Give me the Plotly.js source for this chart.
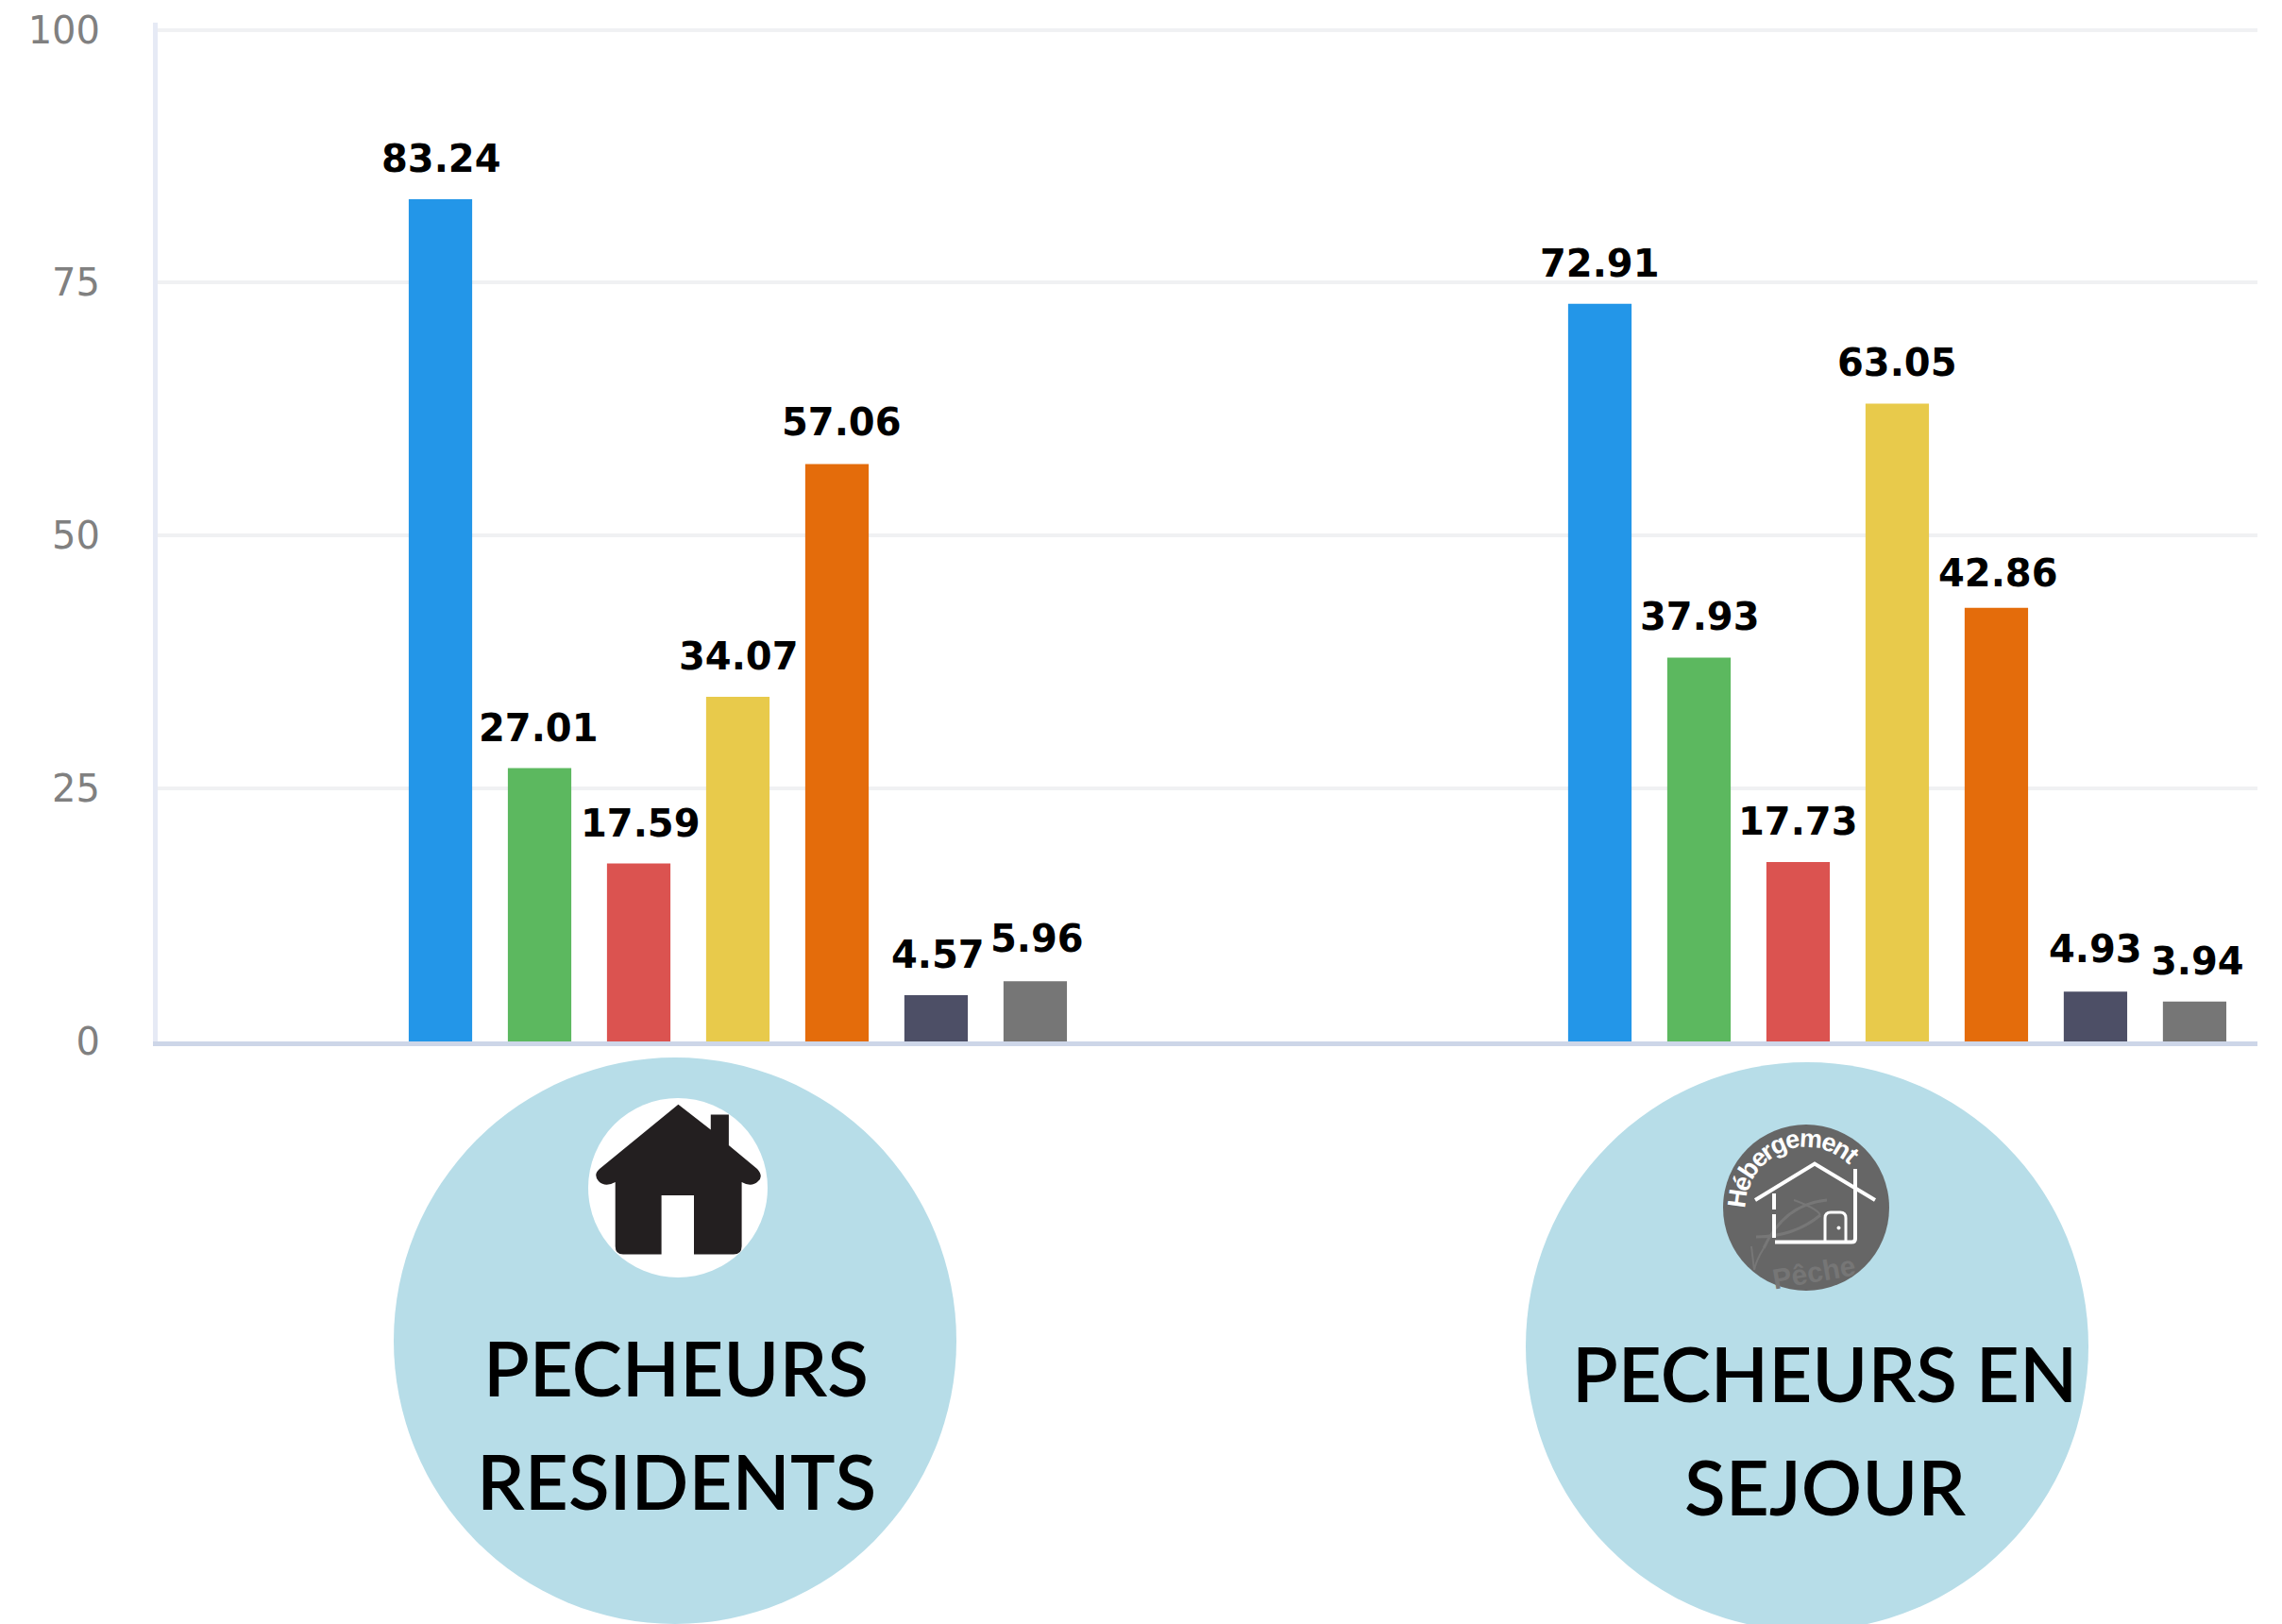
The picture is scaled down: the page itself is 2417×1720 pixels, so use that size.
<!DOCTYPE html>
<html><head><meta charset="utf-8">
<script src="https://cdn.plot.ly/plotly-3.0.1.min.js"></script>
<style>html,body{margin:0;padding:0;background:#fff;overflow:hidden}#c{width:2417px;height:1720px}</style>
</head><body><div id="c"></div>
<script>
const categories = ["PECHEURS RESIDENTS", "PECHEURS EN SEJOUR"];
const serie1 = [83.24, 72.91];
const serie2 = [27.01, 37.93];
const serie3 = [17.59, 17.73];
const serie4 = [34.07, 63.05];
const serie5 = [57.06, 42.86];
const serie6 = [4.57, 4.93];
const serie7 = [5.96, 3.94];
const seriesValues = [serie1, serie2, serie3, serie4, serie5, serie6, serie7];
const seriesColors = ["#2396e8", "#5cb85f", "#db5350", "#e8ca4b", "#e46c0b", "#4d4f66", "#767676"];
const yTicks = [0, 25, 50, 75, 100];

const W = 2417, H = 1720, L = 167, R = 26, T = 24, B = 617;
const X = p => (p - L) / (W - L - R);
const Y = p => 1 - (p - T) / (H - T - B);
const pxPath = s => s.replace(/(-?[\d.]+),(-?[\d.]+)/g, (m, a, b) => X(+a) + ',' + Y(+b));

const pathShape = (d, o) => Object.assign({type: 'path', xref: 'paper', yref: 'paper', path: pxPath(d), line: {width: 0}}, o);
const circle = (cx, cy, rx, ry, fill) => ({type: 'circle', xref: 'paper', yref: 'paper',
  x0: X(cx - rx), x1: X(cx + rx), y0: Y(cy + ry), y1: Y(cy - ry), fillcolor: fill, line: {width: 0}});
const stroke = (d, color, width) => pathShape(d, {line: {color: color, width: width}, fillcolor: 'rgba(0,0,0,0)'});

const shapes = [
  circle(715, 1420, 298, 300, '#b7dde8'),
  circle(1914, 1426, 298, 301, '#b7dde8'),
  circle(718, 1258, 95, 95, '#ffffff'),
  pathShape('M718.4,1169.8 L752.8,1196.5 L752.8,1180.5 L771.9,1180.5 L771.9,1213 L802,1238 Q809,1246 803,1251 Q796,1258 785.6,1252 L785.6,1320 Q785.6,1328.6 777,1328.6 L735,1328.6 L735,1266 L700.6,1266 L700.6,1328.6 L660,1328.6 Q651.7,1328.6 651.7,1320 L651.7,1252 Q641,1258 634,1251 Q628,1244 635,1238 Z', {fillcolor: '#231f20'}),
  circle(1913, 1279, 88, 88, '#666666'),
  // faint fish and reeds of the lodging badge
  stroke('M1935,1271 Q1890,1275 1868,1322', '#777777', 3),
  stroke('M1928,1287 Q1900,1310 1860,1310', '#777777', 3),
  stroke('M1900,1271 Q1925,1280 1928,1287', '#777777', 2),
  stroke('M1868,1322 Q1860,1335 1858,1345', '#777777', 2),
  stroke('M1855,1320 L1858,1345', '#777777', 2),
  // lodging house outline
  stroke('M1859,1271 L1922,1232.5 L1986,1271', '#ffffff', 4),
  stroke('M1965,1238 L1965,1312 Q1965,1315.5 1961,1315.5 L1880,1315.5', '#ffffff', 4),
  stroke('M1879,1264 L1879,1281 M1879,1286 L1879,1311', '#ffffff', 4),
  stroke('M1933,1315 L1933,1290 Q1933,1284 1939,1284 L1949,1284 Q1955,1284 1955,1290 L1955,1315', '#ffffff', 3),
  circle(1947.5, 1300.5, 2, 2, '#ffffff')
];

const annotations = [];
const labelDx = [[1, -1, 2, 1, 5, 2, 2], [0, 1, 0, 0, 2, 0, 3]];
const labelDy = [[0, 0, 0, 0, 2, 0, 2], [0, 1, 0, 0, -6, 2, 0]];
const slot = 105 / 1228;
seriesValues.forEach((vals, j) => vals.forEach((v, i) => {
  annotations.push({xref: 'x', yref: 'y', x: i + (j - 3) * slot, y: v, text: v.toFixed(2), showarrow: false,
    xanchor: 'center', yanchor: 'bottom', xshift: labelDx[i][j], yshift: 18 + labelDy[i][j],
    font: {family: '"DejaVu Sans"', size: 40, color: '#000', weight: 700}});
}));

const pxText = (x, y, text, size, color, extra) => Object.assign({xref: 'paper', yref: 'paper', x: X(x), y: Y(y), text: text,
  showarrow: false, xanchor: 'center', yanchor: 'middle', font: {family: 'Lato', size: size, color: color, weight: 600}}, extra || {});
annotations.push(pxText(716, 1448, 'PECHEURS', 80, '#000'));
annotations.push(pxText(716, 1568, 'RESIDENTS', 80, '#000'));
annotations.push(pxText(1933, 1454, 'PECHEURS EN', 80, '#000'));
annotations.push(pxText(1933, 1574, 'SEJOUR', 80, '#000'));

// curved badge wording, letter by letter
const badge = 'Hébergement'.split('');
const widths = [0.72, 0.556, 0.61, 0.556, 0.39, 0.61, 0.556, 0.89, 0.556, 0.61, 0.33];
const total = widths.reduce((a, b) => a + b, 0);
let run = 0;
badge.forEach((ch, k) => {
  const a = -90 + 135 * (run + widths[k] / 2) / total;
  run += widths[k];
  const rad = a * Math.PI / 180;
  annotations.push(pxText(1913 + 73 * Math.sin(rad), 1279 - 73 * Math.cos(rad), ch, 27, '#fff',
    {textangle: a, font: {family: '"Liberation Sans"', size: 27, color: '#fff', weight: 700}}));
});
annotations.push(pxText(1921, 1347, 'Pêche', 30, '#767676',
  {textangle: -10, font: {family: '"Liberation Sans"', size: 30, color: '#767676', weight: 700}}));

const traces = seriesValues.map((vals, j) => ({
  type: 'bar', x: categories, y: vals, name: 'Série ' + (j + 1),
  marker: {color: seriesColors[j], line: {width: 0}}, hoverinfo: 'x+y'
}));

Plotly.newPlot('c', traces, {
  width: W, height: H, autosize: false,
  margin: {l: L, r: R, t: T, b: B, pad: 0},
  paper_bgcolor: '#fff', plot_bgcolor: '#fff', showlegend: false,
  barmode: 'group', bargap: 0.4015, bargroupgap: 0.36,
  xaxis: {type: 'category', categoryorder: 'array', categoryarray: categories,
    range: [-0.5004, 1.3107], showticklabels: false, ticks: '', showgrid: false, zeroline: false,
    showline: true, linecolor: '#cdd6e8', linewidth: 5, fixedrange: true},
  yaxis: {range: [0, 100.7], tickvals: yTicks, ticktext: yTicks.map(String), ticks: '',
    ticklabelstandoff: 48, tickfont: {family: '"DejaVu Sans"', size: 40, color: '#808080'},
    showgrid: true, gridcolor: '#f0f1f3', gridwidth: 4, zeroline: false,
    showline: true, linecolor: '#e6eaf5', linewidth: 5, fixedrange: true},
  shapes: shapes, annotations: annotations
}, {displayModeBar: false, staticPlot: true});
</script></body></html>
